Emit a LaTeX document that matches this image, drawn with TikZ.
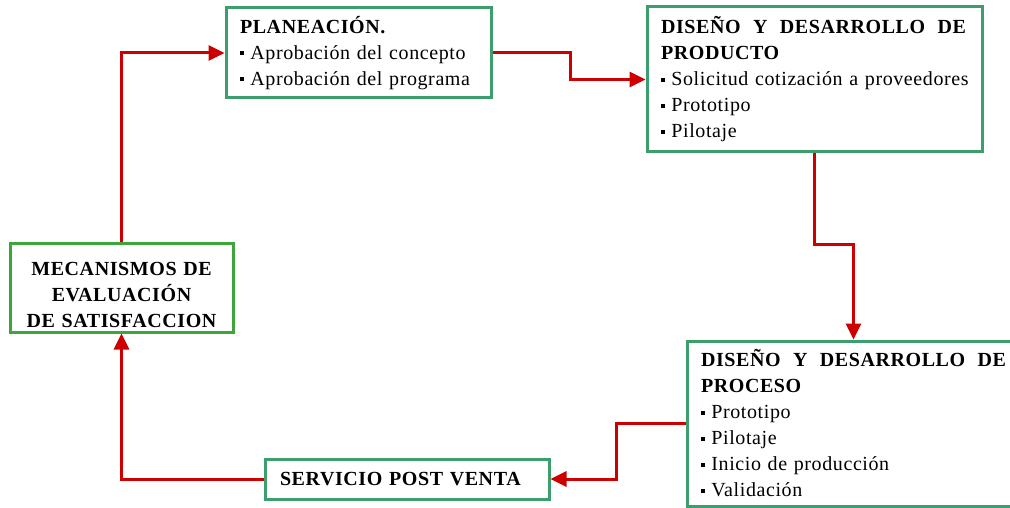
\documentclass[tikz,border=0pt]{standalone}
\usepackage{fontspec}
\setmainfont{Liberation Serif}[LetterSpace=3]
\usetikzlibrary{arrows.meta}
\definecolor{boxgreen}{RGB}{60,158,106}
\definecolor{brightgreen}{RGB}{60,165,60}
\definecolor{arrowred}{RGB}{204,0,0}
\newcommand\bul{\rule[0.2em]{0.22em}{0.22em}\hspace{0.3em}}
\newcommand\dyd{\hbox to 305pt{\bfseries DISEÑO\hfill Y\hfill DESARROLLO\hfill DE}}
\begin{document}
\begin{tikzpicture}[x=1pt,y=-1pt,
  box/.style={draw=boxgreen,line width=3pt,fill=white,inner sep=0pt,
    font=\fontsize{20}{26}\selectfont,align=left},
  link/.style={draw=arrowred,line width=3pt,line join=miter,
    -{Triangle[length=16pt,width=15pt]}}]
\useasboundingbox[fill=white] (0,0) rectangle (1010,508);

\node[box,minimum width=265pt,minimum height=90pt,text width=237pt] (plan) at (358.5,53)
  {\textbf{PLANEACIÓN.}\\\bul Aprobación del concepto\\\bul Aprobación del programa};

\node[box,minimum width=335pt,minimum height=145pt,text width=307pt] (prod) at (814.5,79.5)
  {\dyd\\\textbf{PRODUCTO}\\
   \bul Solicitud cotización a proveedores\\\bul Prototipo\\\bul Pilotaje};

\node[box,minimum width=333pt,minimum height=165pt,text width=305pt] (proc) at (853.5,423.5)
  {\dyd\\\textbf{PROCESO}\\
   \bul Prototipo\\\bul Pilotaje\\\bul Inicio de producción\\\bul Validación};

\node[box,draw=brightgreen,minimum width=223pt,minimum height=89pt,text width=210pt,
  align=center,font=\fontsize{20}{26}\selectfont\bfseries] (meca) at (121.5,287.5)
  {\rule{0pt}{28pt}MECANISMOS DE\\EVALUACIÓN\\DE SATISFACCION};

\node[box,minimum width=284pt,minimum height=40pt,text width=254pt,
  font=\fontsize{20}{25}\selectfont\bfseries] (serv) at (407,479)
  {SERVICIO POST VENTA};

\draw[link] (meca.north) |- (plan.west);
\draw[link] (plan.east) -- ++(78,0) |- (prod.west);
\draw[link] (prod.south) -- ++(0,91) -| (proc.north);
\draw[link] (proc.west) -- ++(-69,0) |- (serv.east);
\draw[link] (serv.west) -| (meca.south);
\end{tikzpicture}
\end{document}
